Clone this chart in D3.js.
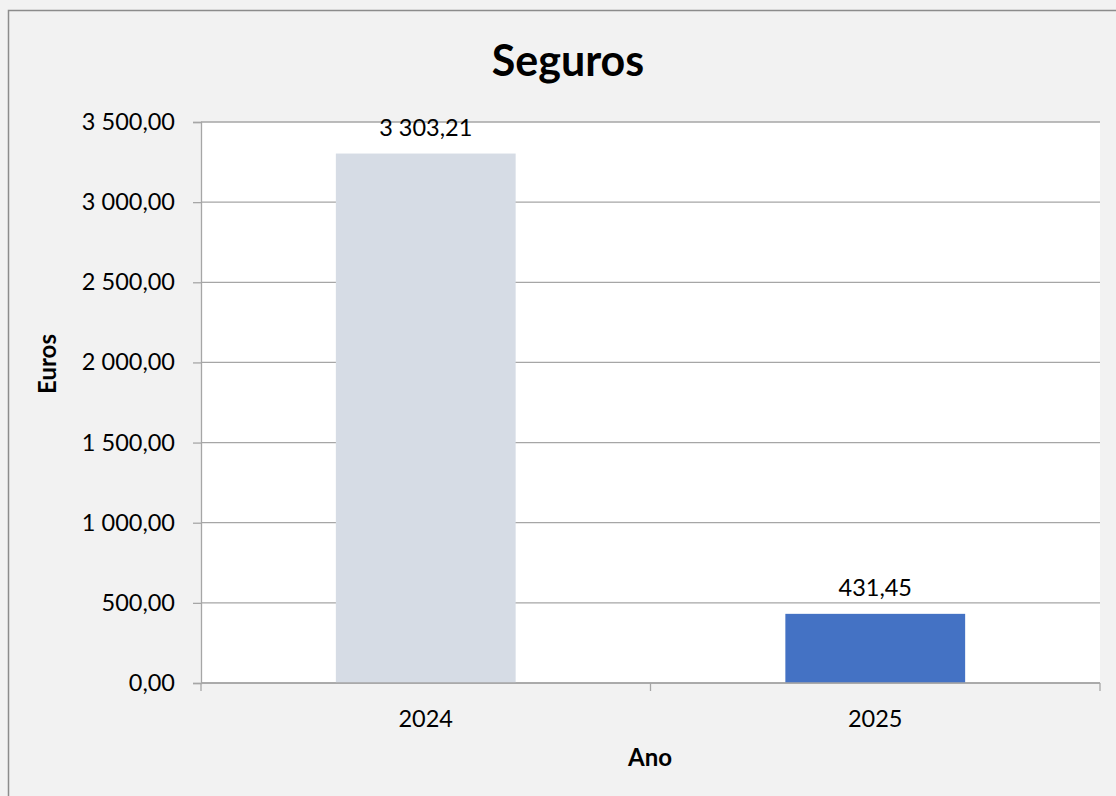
<!DOCTYPE html>
<html lang="pt">
<head>
    <meta charset="UTF-8">
    <title>Seguros</title>
    <style>
        html, body { margin: 0; padding: 0; background: #f2f2f2; }
        #main { width: 1116px; height: 796px; }
        text { font-family: Lato, "Open Sans", sans-serif; fill: #000; }
    </style>
</head>
<body>
<div id="main"></div>
<script src="https://d3js.org/d3.v7.min.js"></script>
<script>
    /* dados */
    const anos = ['2024', '2025']
    const valores = [3303.21, 431.45]
    const cores = ['#d6dce5', '#4472c4']
    const yTicks = [0, 500, 1000, 1500, 2000, 2500, 3000, 3500]

    const width = 1116
    const height = 796
    const plot = { left: 201, right: 1100, top: 122, bottom: 683 }

    // formato pt: espaço nos milhares, vírgula decimal
    const fmt = d3.formatLocale({ decimal: ',', thousands: '\u00a0', grouping: [3], currency: ['', '€'] }).format(',.2f')

    const svg = d3.select('#main').append('svg')
        .attr('width', width)
        .attr('height', height)
        .attr('viewBox', `0 0 ${width} ${height}`)

    // moldura do gráfico
    svg.append('rect')
        .attr('x', 8.5).attr('y', 10.5)
        .attr('width', width + 20).attr('height', height + 20)
        .attr('fill', '#f2f2f2')
        .attr('stroke', '#8c8c8c')
        .attr('stroke-width', 1.5)

    // área de plotagem
    svg.append('rect')
        .attr('x', plot.left).attr('y', plot.top)
        .attr('width', plot.right - plot.left).attr('height', plot.bottom - plot.top)
        .attr('fill', '#fff')

    const x = d3.scaleBand().domain(anos).range([plot.left, plot.right]).paddingInner(0.6).paddingOuter(0.3)
    const y = d3.scaleLinear().domain([0, 3500]).range([plot.bottom, plot.top])

    // grelha
    svg.append('g')
        .selectAll('line')
        .data(yTicks)
        .join('line')
        .attr('x1', plot.left).attr('x2', plot.right)
        .attr('y1', d => y(d)).attr('y2', d => y(d))
        .attr('stroke', '#a6a6a6')
        .attr('stroke-width', 1.3)

    // barras
    svg.append('g')
        .selectAll('rect')
        .data(valores)
        .join('rect')
        .attr('x', (d, i) => x(anos[i]))
        .attr('y', d => y(d))
        .attr('width', x.bandwidth())
        .attr('height', d => y(0) - y(d))
        .attr('fill', (d, i) => cores[i])

    // eixo y
    const yAxis = svg.append('g')
        .attr('transform', `translate(${plot.left},0)`)
        .call(d3.axisLeft(y).tickValues(yTicks).tickFormat(fmt).tickSize(8).tickPadding(18))
    yAxis.select('.domain').attr('stroke', '#a6a6a6').attr('stroke-width', 1.3)
    yAxis.selectAll('.tick line').attr('stroke', '#a6a6a6').attr('stroke-width', 1.3)
    yAxis.selectAll('.tick text').attr('font-size', 23.5).attr('font-family', 'Lato').attr('fill', '#000')

    // eixo x (separadores de categoria)
    const xEdges = d3.scaleLinear().domain([0, anos.length]).range([plot.left, plot.right])
    const xAxis = svg.append('g')
        .attr('transform', `translate(0,${plot.bottom})`)
    xAxis.append('line')
        .attr('x1', plot.left).attr('x2', plot.right)
        .attr('stroke', '#a6a6a6').attr('stroke-width', 1.3)
    xAxis.selectAll('line.sep')
        .data(d3.range(anos.length + 1))
        .join('line')
        .attr('class', 'sep')
        .attr('x1', d => xEdges(d)).attr('x2', d => xEdges(d))
        .attr('y1', 0).attr('y2', 8)
        .attr('stroke', '#a6a6a6').attr('stroke-width', 1.3)
    xAxis.selectAll('text')
        .data(anos)
        .join('text')
        .attr('x', d => x(d) + x.bandwidth() / 2)
        .attr('y', 44)
        .attr('text-anchor', 'middle')
        .attr('font-size', 23.5)
        .text(d => d)

    // rótulos de dados
    svg.append('g')
        .selectAll('text')
        .data(valores)
        .join('text')
        .attr('x', (d, i) => x(anos[i]) + x.bandwidth() / 2)
        .attr('y', d => y(d) - 18)
        .attr('text-anchor', 'middle')
        .attr('font-size', 23.5)
        .text(d => fmt(d))

    // títulos
    svg.append('text')
        .attr('x', 568).attr('y', 76)
        .attr('text-anchor', 'middle')
        .attr('font-size', 43)
        .attr('font-weight', 'bold')
        .text('Seguros')

    svg.append('text')
        .attr('x', 650).attr('y', 766)
        .attr('text-anchor', 'middle')
        .attr('font-size', 24)
        .attr('font-weight', 'bold')
        .text('Ano')

    svg.append('text')
        .attr('transform', 'translate(56,364) rotate(-90)')
        .attr('text-anchor', 'middle')
        .attr('font-size', 24)
        .attr('font-weight', 'bold')
        .text('Euros')
</script>
</body>
</html>
